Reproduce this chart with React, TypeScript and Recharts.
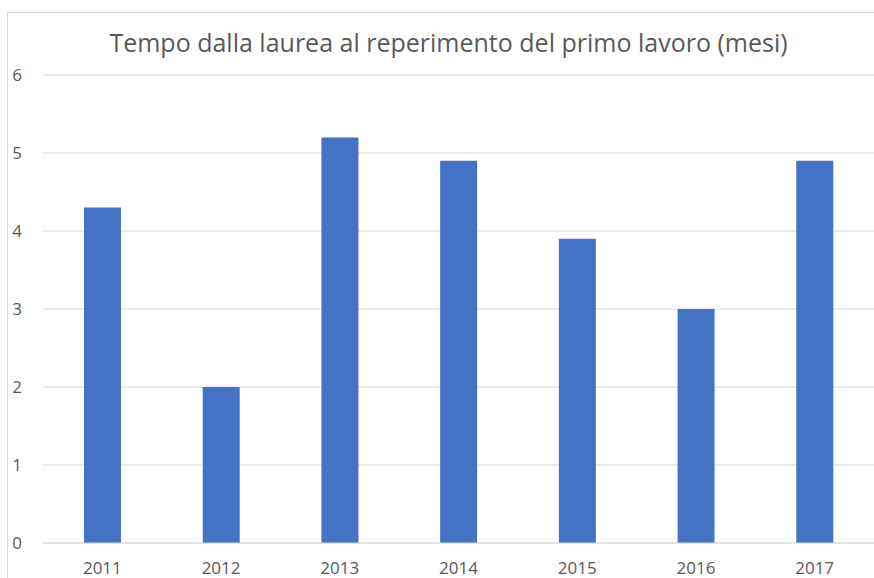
import React from 'react';
import { BarChart, Bar, XAxis, YAxis, CartesianGrid } from 'recharts';

const years = ['2011', '2012', '2013', '2014', '2015', '2016', '2017'];
const months = [4.3, 2.0, 5.2, 4.9, 3.9, 3.0, 4.9];
const yTicks = [0, 1, 2, 3, 4, 5, 6];

const TITLE = 'Tempo dalla laurea al reperimento del primo lavoro (mesi)';
const BLUE = '#4472C4';
const GRID = '#d9d9d9';
const TEXT = '#595959';
const FONT = '"Open Sans", sans-serif';

const data = years.map((y, i) => ({ year: y, value: months[i] }));

export default function App() {
    return (
        <div style={{ position: 'absolute', left: 0, top: 0, width: 874, height: 578, background: '#fff', overflow: 'hidden' }}>
            <div style={{ position: 'absolute', left: 7, top: 12, width: 900, height: 600, border: `1px solid ${GRID}` }} />
            <div style={{
                position: 'absolute', left: 0, top: 23, width: 897, textAlign: 'center',
                fontFamily: FONT, fontSize: 25, lineHeight: '38px', color: TEXT, whiteSpace: 'nowrap'
            }}>
                {TITLE}
            </div>
            <div style={{ position: 'absolute', left: 0, top: 0 }}>
                <BarChart width={874} height={578} data={data} margin={{ top: 75, right: 0, left: 0, bottom: 0 }}
                    barSize={37}>
                    <CartesianGrid vertical={false} stroke={GRID} />
                    <XAxis dataKey="year" height={35} tickLine={false} tickSize={0} tickMargin={19}
                        axisLine={{ stroke: GRID }} tick={{ fill: TEXT, fontSize: 17, fontFamily: FONT }} />
                    <YAxis width={43} domain={[0, 6]} ticks={yTicks} axisLine={false} tickLine={false} tickSize={0}
                        tickMargin={21} tick={{ fill: TEXT, fontSize: 17, fontFamily: FONT }} />
                    <Bar dataKey="value" fill={BLUE} isAnimationActive={false} />
                </BarChart>
            </div>
        </div>
    );
}
